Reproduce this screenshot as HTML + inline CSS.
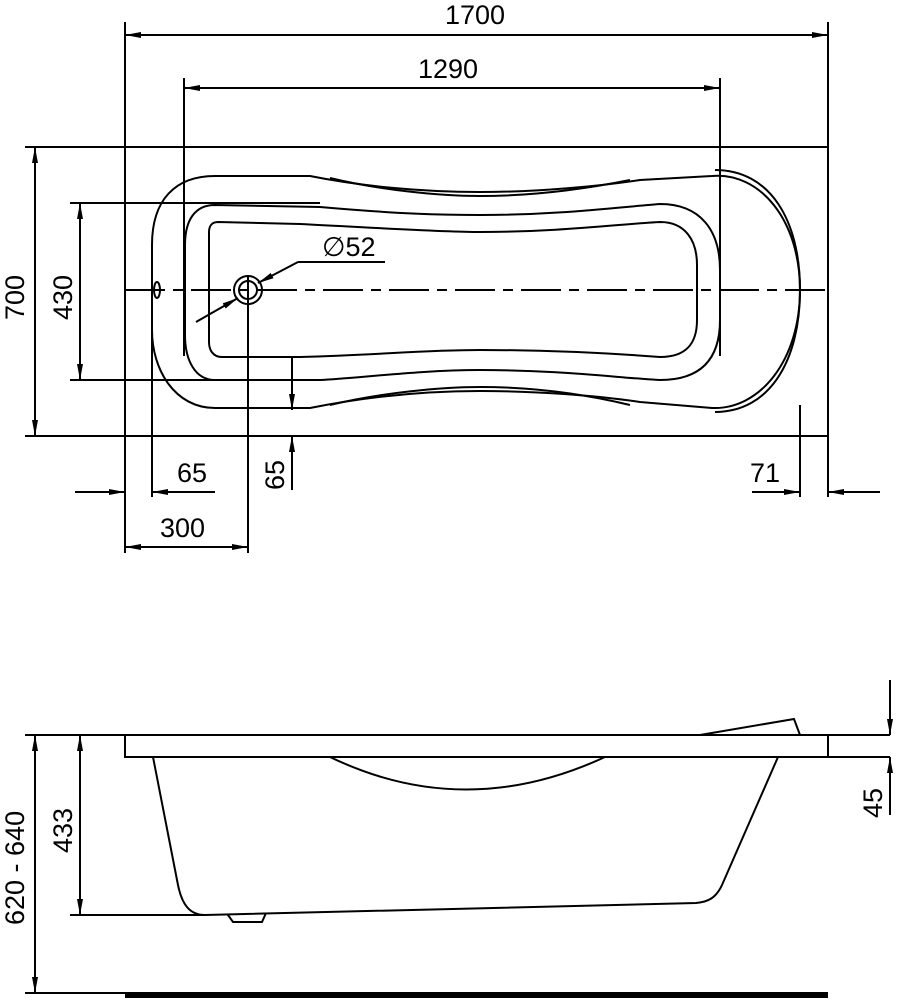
<!DOCTYPE html>
<html><head><style>body{margin:0;background:#fff}svg{display:block}text{font-family:"Liberation Sans",Arial,sans-serif;font-size:27px;fill:#000}</style></head><body>
<svg width="903" height="1000" viewBox="0 0 903 1000" xmlns="http://www.w3.org/2000/svg">
<defs><marker id="a" viewBox="0 0 16 6" refX="16" refY="3" markerWidth="16" markerHeight="6" orient="auto-start-reverse" markerUnits="userSpaceOnUse"><path d="M0,0 L16,3 L0,6z" fill="#000"/></marker></defs>
<g stroke="#000" stroke-width="2" fill="none">
<rect x="125" y="147" width="703" height="289"/>
<line x1="125" y1="22" x2="125" y2="553"/>
<line x1="828" y1="22" x2="828" y2="497"/>
<line x1="125" y1="35" x2="828" y2="35" marker-start="url(#a)" marker-end="url(#a)"/>
<line x1="184" y1="78" x2="184" y2="356"/>
<line x1="720" y1="78" x2="720" y2="356"/>
<line x1="184" y1="88" x2="720" y2="88" marker-start="url(#a)" marker-end="url(#a)"/>
<line x1="25" y1="147" x2="125" y2="147"/>
<line x1="25" y1="436" x2="125" y2="436"/>
<line x1="35" y1="147" x2="35" y2="436" marker-start="url(#a)" marker-end="url(#a)"/>
<line x1="70" y1="203" x2="320" y2="203"/>
<line x1="70" y1="380" x2="300" y2="380"/>
<line x1="80" y1="203" x2="80" y2="380" marker-start="url(#a)" marker-end="url(#a)"/>
<line x1="125" y1="290" x2="828" y2="290" stroke-dasharray="40,8,10,8"/>
<path d="M310,176 C360,186 420,192 480,192 C540,192 600,186 640,180 L712,176 C760,172 800,220 800,290 C800,360 760,410 712,408 L640,402 C600,396 540,391 480,391 C420,391 360,398 310,408 L215,408 C175,408 152,370 152,330 L152,245 C152,200 175,176 215,176 Z"/>
<path d="M330,178 C380,190 440,196 480,196 C530,196 580,190 630,180"/>
<path d="M330,405 C380,393 440,387 480,387 C530,387 580,393 630,405"/>
<path d="M715,170 C770,170 800,220 800,290 C800,360 770,412 715,412"/>
<path d="M215,205 L320,207 C400,214 440,215 480,215 C560,215 620,207 660,204 C700,204 720,230 720,270 L720,320 C720,360 700,380 660,380 C620,378 560,370 480,370 C420,370 360,378 320,380 L215,380 C195,380 185,360 185,335 L185,245 C185,220 195,205 215,205 Z"/>
<path d="M218,222 L300,224 C380,228 440,232 480,232 C560,232 620,224 660,222 C685,222 697,240 697,265 L697,320 C697,345 685,357 660,357 C620,354 560,350 480,350 C420,350 380,355 300,357 L222,357 C213,357 209,350 209,342 L209,232 C209,226 212,222 218,222 Z"/>
<ellipse cx="157" cy="290" rx="3" ry="8"/>
<circle cx="248" cy="290" r="14"/><circle cx="248" cy="290" r="9"/>
<line x1="248" y1="275" x2="248" y2="553"/>
<line x1="196" y1="322" x2="238" y2="298" marker-end="url(#a)"/>
<line x1="298" y1="262" x2="258" y2="283" marker-end="url(#a)"/>
<polyline points="298,262 385,262"/>
<line x1="152" y1="290" x2="152" y2="497"/>
<line x1="75" y1="492" x2="125" y2="492" marker-end="url(#a)"/>
<line x1="215" y1="492" x2="152" y2="492" marker-end="url(#a)"/>
<line x1="125" y1="547" x2="248" y2="547" marker-start="url(#a)" marker-end="url(#a)"/>
<line x1="292" y1="357" x2="292" y2="410" marker-end="url(#a)"/>
<line x1="292" y1="490" x2="292" y2="436" marker-end="url(#a)"/>
<line x1="800" y1="405" x2="800" y2="497"/>
<line x1="752" y1="492" x2="800" y2="492" marker-end="url(#a)"/>
<line x1="880" y1="492" x2="828" y2="492" marker-end="url(#a)"/>
<line x1="25" y1="735" x2="890" y2="735"/>
<rect x="125" y="735" width="703" height="22"/>
<line x1="828" y1="757" x2="890" y2="757"/>
<path d="M700,735 L794,719 L800,735"/>
<path d="M153,757 L178,885 C182,905 190,915 205,915 L696,903 C708,902 716,898 722,885 L778,757"/>
<path d="M330,757 Q465,822 605,757"/>
<path d="M228,915 L233,922 L262,922 L266,913"/>
<line x1="70" y1="915" x2="205" y2="915"/>
<line x1="125" y1="995" x2="828" y2="995" stroke-width="6"/>
<line x1="25" y1="993" x2="125" y2="993"/>
<line x1="35" y1="735" x2="35" y2="993" marker-start="url(#a)" marker-end="url(#a)"/>
<line x1="80" y1="735" x2="80" y2="915" marker-start="url(#a)" marker-end="url(#a)"/>
<line x1="890" y1="680" x2="890" y2="735" marker-end="url(#a)"/>
<line x1="890" y1="815" x2="890" y2="757" marker-end="url(#a)"/>
</g>
<text x="445" y="24">1700</text>
<text x="418" y="78">1290</text>
<text x="322" y="256">∅52</text>
<text x="177" y="482">65</text>
<text x="750" y="482">71</text>
<text x="160" y="537">300</text>
<text transform="translate(284,490) rotate(-90)">65</text>
<text transform="translate(24,320) rotate(-90)">700</text>
<text transform="translate(72,320) rotate(-90)">430</text>
<text transform="translate(24,925) rotate(-90)">620 - 640</text>
<text transform="translate(72,853) rotate(-90)">433</text>
<text transform="translate(882,818) rotate(-90)">45</text>
</svg>
</body></html>
